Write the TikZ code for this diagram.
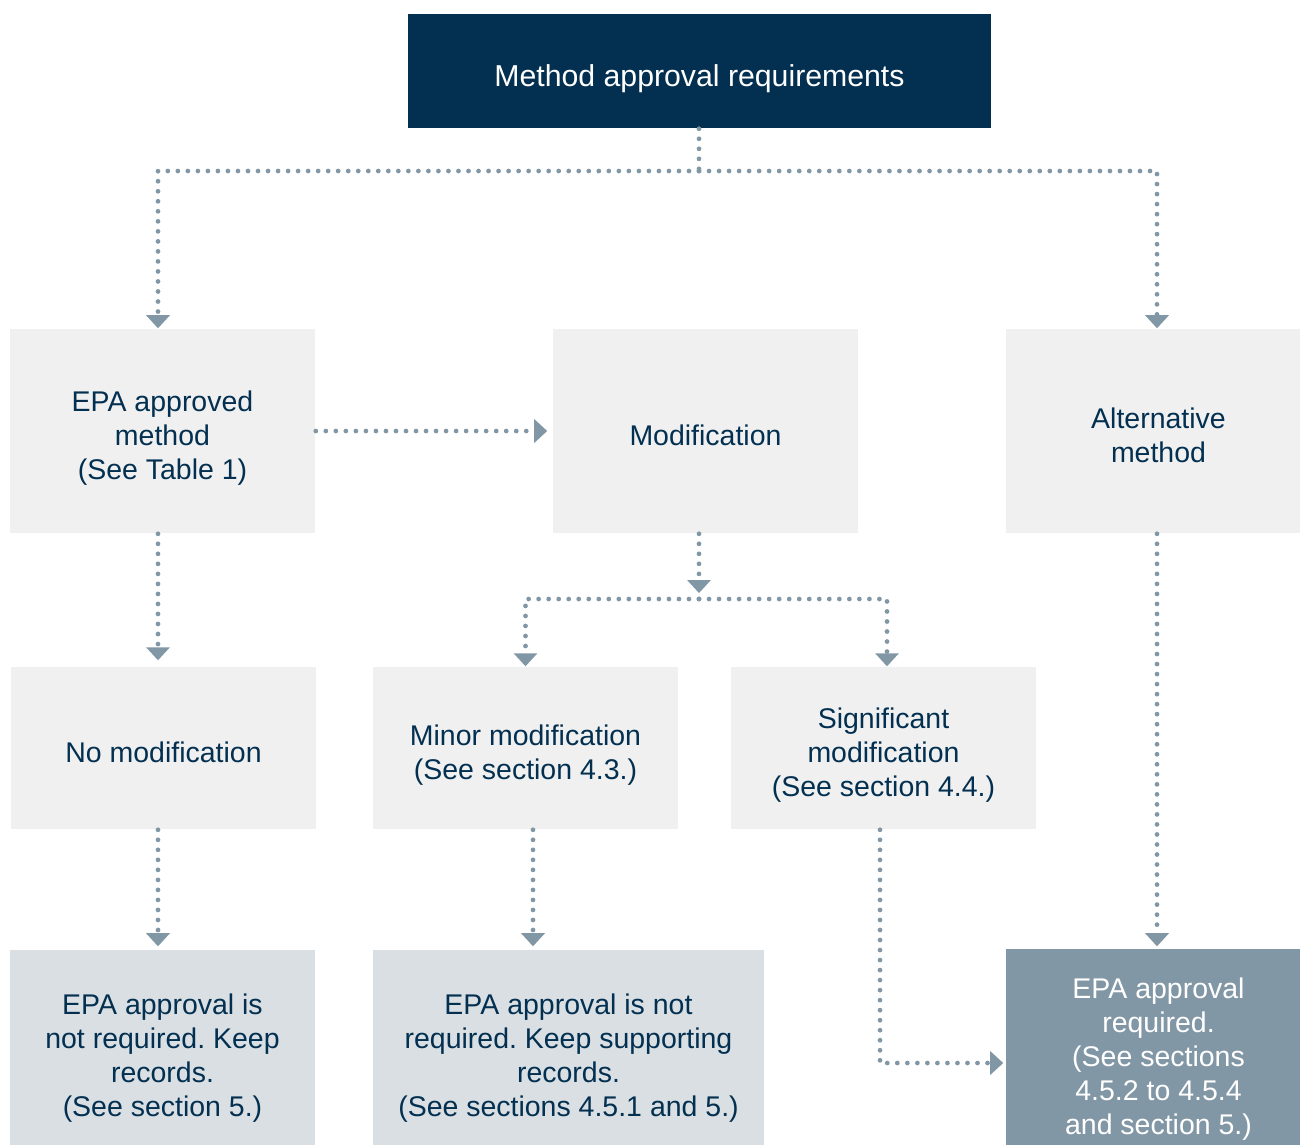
\documentclass[tikz,border=0pt]{standalone}
\usepackage{fontspec}
\setmainfont{Liberation Sans}
\usetikzlibrary{arrows.meta}
\frenchspacing

\definecolor{navy}{HTML}{033050}
\definecolor{boxgrey}{HTML}{F0F0F0}
\definecolor{boxblue}{HTML}{D9DFE3}
\definecolor{slate}{HTML}{8297A5}

\begin{document}
\begin{tikzpicture}[x=0.01cm, y=-0.01cm,
    box/.style={rectangle, fill=boxgrey, text=navy, align=center, inner sep=0pt,
      font=\fontsize{8.1}{9.7}\selectfont},
    link/.style={draw=slate, line width=1.35pt, line cap=round, dash pattern=on 0pt off 2.85pt},
    arr/.style={link, -{Triangle[width=6.8pt, length=3.7pt, line width=0pt, fill=slate]}}]
      \clip (0,0) rectangle (1300,1144);

      % boxes
      \node[box, fill=navy, text=white, minimum width=5.83cm, minimum height=1.14cm,
        font=\fontsize{8.6}{10}\selectfont, text height=10.8pt] (top) at (699.5,71) {Method approval requirements};

      \node[box, text height=29.3pt, minimum width=3.05cm, minimum height=2.04cm] (epa) at (162.5,431) {EPA approved\\method\\(See Table 1)};
      \node[box, text height=8.2pt, minimum width=3.05cm, minimum height=2.04cm] (mod) at (705.5,431) {Modification};
      \node[box, text height=17.9pt, minimum width=3.05cm, minimum height=2.04cm] (alt) at (1158.5,431) {Alternative\\method};

      \node[box, text height=8.2pt, minimum width=3.05cm, minimum height=1.62cm] (nomod) at (163.5,748) {No modification};
      \node[box, text height=19.6pt, minimum width=3.05cm, minimum height=1.62cm] (minor) at (525.5,748) {Minor modification\\(See section 4.3.)};
      \node[box, text height=29.3pt, minimum width=3.05cm, minimum height=1.62cm] (sig) at (883.5,748) {Significant\\modification\\(See section 4.4.)};

      \node[box, text height=36.7pt, fill=boxblue, minimum width=3.05cm, minimum height=2.1cm] (keep1) at (162.5,1055) {EPA approval is\\not required. Keep\\records.\\(See section 5.)};
      \node[box, text height=36.7pt, fill=boxblue, minimum width=3.91cm, minimum height=2.1cm] (keep2) at (568.5,1055) {EPA approval is not\\required. Keep supporting\\records.\\(See sections 4.5.1 and 5.)};
      \node[box, text height=47pt, fill=slate, text=white, minimum width=3.05cm, minimum height=2.12cm] (req) at (1158.5,1055) {EPA approval\\required.\\(See sections\\4.5.2 to 4.5.4\\and section 5.)};

      % where the lines run
      \coordinate (j1) at (699,171);
      \coordinate (j2) at (699,599);
      \coordinate (bend) at (880,1063);
      \coordinate (colA) at (158,0);
      \coordinate (colB) at (533,0);
      \coordinate (colM) at (699,0);
      \coordinate (colG) at (887,0);
      \coordinate (colS) at (880,0);
      \coordinate (colR) at (1157,0);

      \draw[link] (top.south -| colM) -- (j1);
      \draw[arr] (j1) -| (epa.north -| colA);
      \draw[arr] (j1) -| (alt.north -| colR);
      \draw[arr, shorten >=0.05cm] (epa.east) -- (mod.west);

      \draw[arr, shorten >=0.06cm] (mod.south -| colM) -- (j2);
      \draw[arr] (j2) -| (minor.north);
      \draw[arr] (j2) -| (sig.north -| colG);

      \draw[arr, shorten >=0.06cm] (epa.south -| colA) -- (nomod.north -| colA);
      \draw[arr, shorten >=0.03cm] (nomod.south -| colA) -- (keep1.north -| colA);
      \draw[arr, shorten >=0.03cm] (minor.south -| colB) -- (keep2.north -| colB);
      \draw[arr, shorten >=0.02cm] (sig.south -| colS) -- (bend) -- (req.west |- bend);
      \draw[arr, shorten >=0.02cm] (alt.south -| colR) -- (req.north -| colR);
    \end{tikzpicture}
\end{document}
